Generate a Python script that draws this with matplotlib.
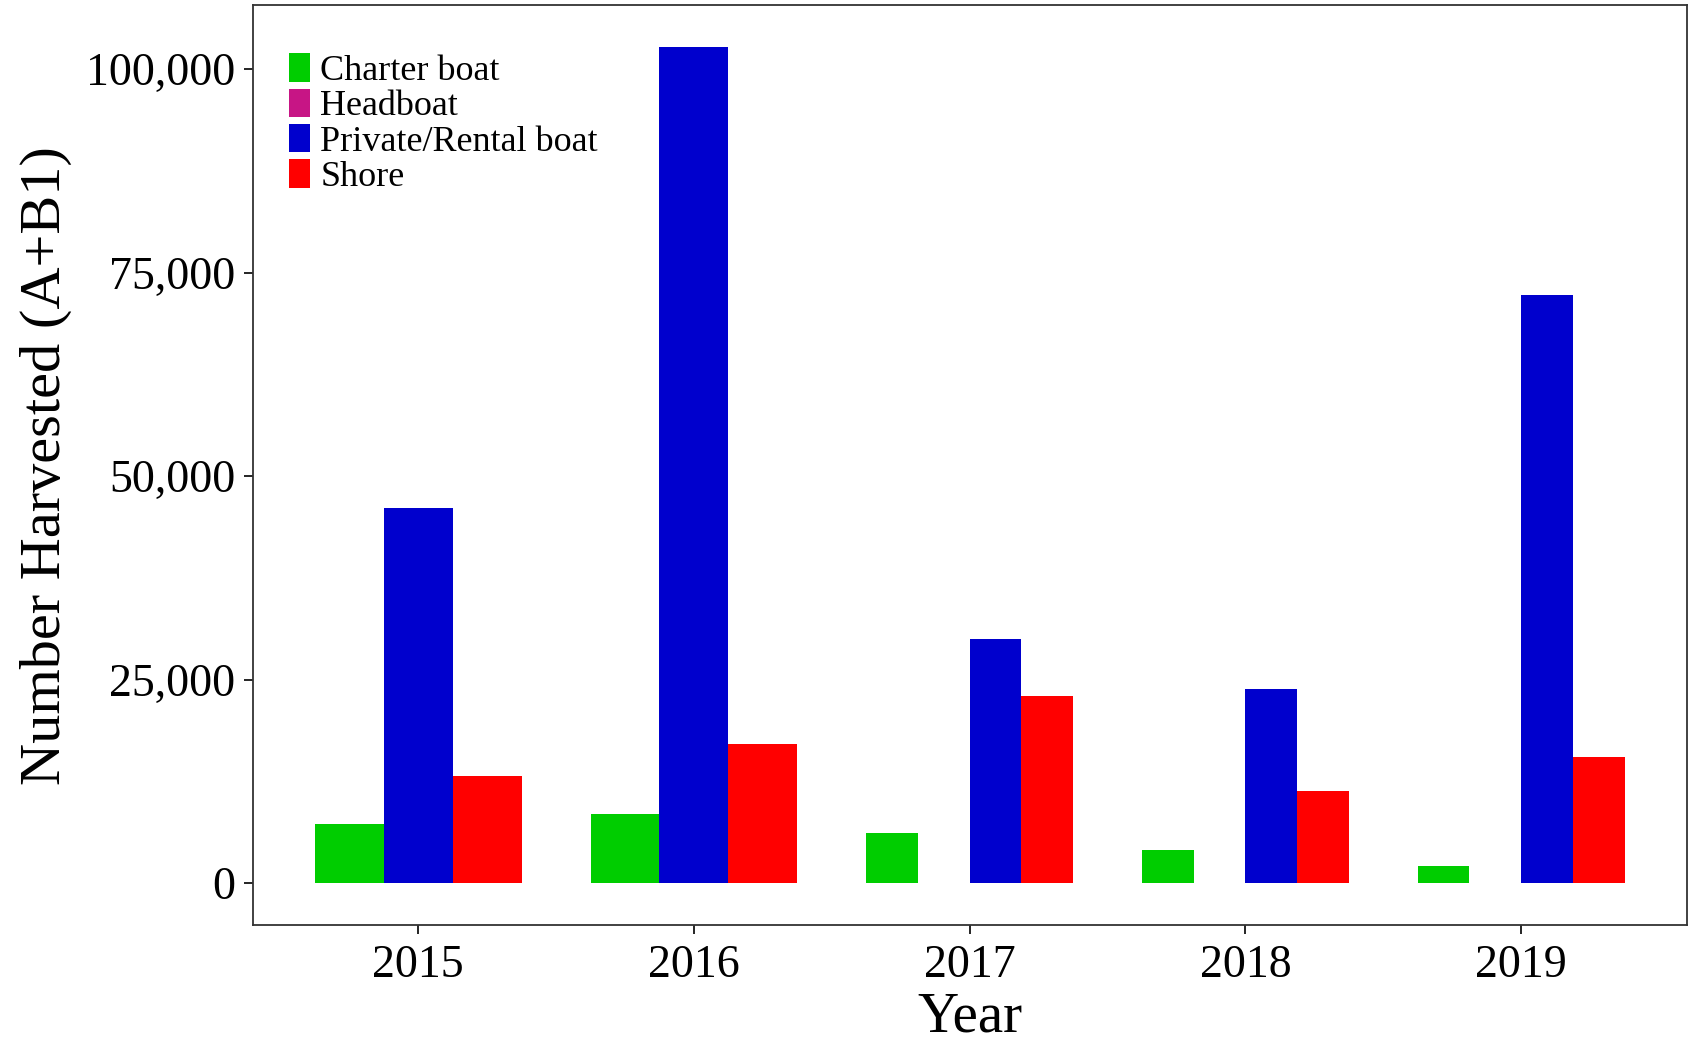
import numpy as np
import matplotlib
matplotlib.use("Agg")
import matplotlib.pyplot as plt
from matplotlib.ticker import FuncFormatter

# data
years = [2015, 2016, 2017, 2018, 2019]
modes = ["Charter boat", "Headboat", "Private/Rental boat", "Shore"]
charter = [7300, 8500, 6100, 4000, 2100]
headboat = [np.nan, np.nan, 0, 0, 0]   # nan = no record that year
private = [46100, 102700, 30000, 23800, 72200]
shore = [13100, 17100, 23000, 11300, 15500]
colors = ["#00CD00", "#C71585", "#0000CD", "#FF0000"]

series = [charter, headboat, private, shore]

plt.rcParams['font.family'] = ['Liberation Serif', 'DejaVu Serif']

fig = plt.figure(figsize=(16.94, 10.41), dpi=100)
ax = fig.add_axes([0.1492, 0.1116, 0.8464, 0.8832])

'''
DODGED BARS (ggplot style: total width 0.75 split among present groups)
'''
for i, yr in enumerate(years):
    present = [k for k in range(len(modes)) if not np.isnan(series[k][i])]
    n = len(present)
    w = 0.75 / n
    for j, k in enumerate(present):
        x = i - 0.375 + w * (j + 0.5)
        ax.bar(x, series[k][i], width=w, color=colors[k], linewidth=0)

# legend handles
for k in range(len(modes)):
    ax.bar(0, 0, width=0, color=colors[k], label=modes[k])

ax.set_xlim(-0.6, len(years) - 1 + 0.6)
ax.set_ylim(-5135, 107835)
ax.set_xticks(range(len(years)))
ax.set_xticklabels([str(y) for y in years])
ax.set_yticks([0, 25000, 50000, 75000, 100000])
ax.yaxis.set_major_formatter(FuncFormatter(lambda v, p: f"{int(v):,}"))

ax.tick_params(axis='both', labelsize=33, length=6.5, width=1.2, pad=6, colors='black')
ax.tick_params(axis='x', pad=8)
for s in ax.spines.values():
    s.set_linewidth(1.3)
    s.set_color('#333333')

ax.set_xlabel("Year", fontsize=41, labelpad=3)
ax.set_ylabel("Number Harvested (A+B1)", fontsize=42, labelpad=10)

leg = ax.legend(loc='upper left', bbox_to_anchor=(0.025, 0.948), frameon=False,
                fontsize=26, handlelength=0.58, handleheight=0.83,
                labelspacing=0.02, handletextpad=0.3, borderpad=0, borderaxespad=0)

plt.savefig("out.png", dpi=100)
